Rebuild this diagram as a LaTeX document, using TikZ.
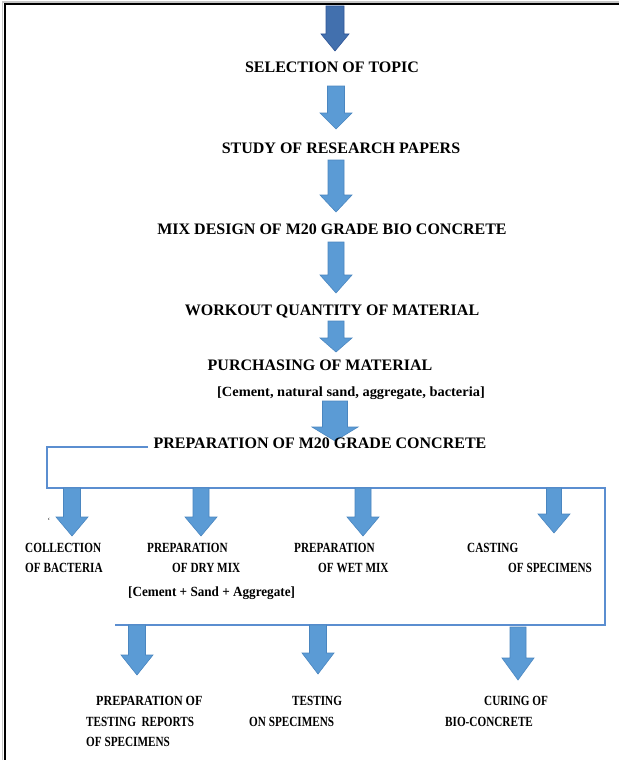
\documentclass[tikz,border=0pt]{standalone}
\usepackage{fontspec}
\setmainfont{Liberation Serif}
\usepackage{graphicx}
\definecolor{arrowblue}{HTML}{5B9BD5}
\definecolor{arrowedge}{HTML}{4A86C0}
\definecolor{darkblue}{HTML}{4270AE}
\definecolor{darkedge}{HTML}{2F5597}
\definecolor{boxline}{HTML}{5B8ED0}
\newcommand\nx[1]{\scalebox{0.8}[1]{#1}}
\newcommand\blockarrow[8][barrow]{%
  \coordinate (#2-top) at (#3,#4);
  \coordinate (#2-tip) at (#3,#6);
  \path[#1] (#3-#7,#4) -- (#3+#7,#4) -- (#3+#7,#5) -- (#3+#8,#5) -- (#2-tip)
    -- (#3-#8,#5) -- (#3-#7,#5) -- cycle;}
\tikzset{
  barrow/.style={fill=arrowblue, draw=arrowedge, line width=0.6pt, line join=miter},
  darrow/.style={fill=darkblue, draw=darkedge, line width=0.6pt, line join=miter},
  mainlbl/.style={font=\fontsize{16}{19}\selectfont\bfseries, inner sep=0pt, anchor=base},
  sublbl/.style={font=\fontsize{14}{17}\selectfont\bfseries, inner sep=0pt, anchor=base west},
  boxedge/.style={draw=boxline, line width=1.1pt},
  frame/.style={draw=black, line width=2pt}
}
\begin{document}
\begin{tikzpicture}[x=1pt, y=-1pt]
\useasboundingbox (0,0) rectangle (619,760);
\fill[white] (0,0) rectangle (619,760);
% outer frame
\draw[gray!45, line width=1.2pt] (2.5,760) -- (2.5,2) -- (619,2);
\draw[frame] (4.5,760) -- (4.5,4.5) -- (619,4.5);

% box lines
\draw[boxedge] (148,447) -- (47,447) -- (47,488) -- (605,488) -- (605,625) -- (115,625);

% main column arrows
\blockarrow[darrow]{a1}{335}{6}{34}{51}{9}{14}
\blockarrow{a2}{336}{86}{113}{129}{8.5}{16}
\blockarrow{a3}{336}{160}{195}{212}{8}{16}
\blockarrow{a4}{336}{242}{275}{293}{8}{16}
\blockarrow{a5}{336}{321}{338}{352}{8}{16}
\blockarrow{a6}{335}{401}{427}{441}{12.5}{23}

% second row arrows
\blockarrow{b1}{72}{488}{517}{536}{8.5}{16}
\blockarrow{b2}{201}{488}{517}{536}{8}{16}
\blockarrow{b3}{363}{488}{517}{536}{8}{16}
\blockarrow{b4}{554}{488}{514}{533}{7.5}{16}

% third row arrows
\blockarrow{c1}{137}{625}{655}{675}{8.5}{16}
\blockarrow{c2}{318}{625}{653}{674}{8.5}{16}
\blockarrow{c3}{518}{627}{658}{680}{8}{16}

% main labels
\node[mainlbl] (sel) at (332,73) {SELECTION OF TOPIC};
\node[mainlbl] (study) at (341,153) {STUDY OF RESEARCH PAPERS};
\node[mainlbl] (mix) at (332,234) {MIX DESIGN OF M20 GRADE BIO CONCRETE};
\node[mainlbl] (work) at (332,315) {WORKOUT QUANTITY OF MATERIAL};
\node[mainlbl] (purch) at (320,370) {PURCHASING OF MATERIAL};
\node[sublbl, anchor=base] (purchmat) at (351,396) {\scalebox{1.03}[1]{[Cement, natural sand, aggregate, bacteria]}};
\node[mainlbl] (prep) at (320,448) {PREPARATION OF M20 GRADE CONCRETE};

% second row labels
\node[font=\fontsize{8}{8}\selectfont, inner sep=0pt] (tick) at (49,521) {`};
\node[sublbl] (coll1) at (25,552) {\nx{COLLECTION}};
\node[sublbl] (coll2) at (25,572) {\nx{OF BACTERIA}};
\node[sublbl] (dry1) at (147,552) {\nx{PREPARATION}};
\node[sublbl] (dry2) at (172,572) {\nx{OF DRY MIX}};
\node[sublbl] (dry3) at (128,596) {\scalebox{0.94}[1]{[Cement + Sand + Aggregate]}};
\node[sublbl] (wet1) at (294,552) {\nx{PREPARATION}};
\node[sublbl] (wet2) at (318,572) {\nx{OF WET MIX}};
\node[sublbl] (cast1) at (467,552) {\nx{CASTING}};
\node[sublbl] (cast2) at (508,572) {\nx{OF SPECIMENS}};

% third row labels
\node[sublbl] (rep1) at (96,705) {\scalebox{0.86}[1]{PREPARATION OF}};
\node[sublbl] (rep2) at (86,726) {\nx{TESTING\ \ REPORTS}};
\node[sublbl] (rep3) at (86,746) {\nx{OF SPECIMENS}};
\node[sublbl] (test1) at (292,705) {\nx{TESTING}};
\node[sublbl] (test2) at (249,726) {\nx{ON SPECIMENS}};
\node[sublbl] (cur1) at (484,705) {\nx{CURING OF}};
\node[sublbl] (cur2) at (445,726) {\nx{BIO-CONCRETE}};
\end{tikzpicture}
\end{document}
